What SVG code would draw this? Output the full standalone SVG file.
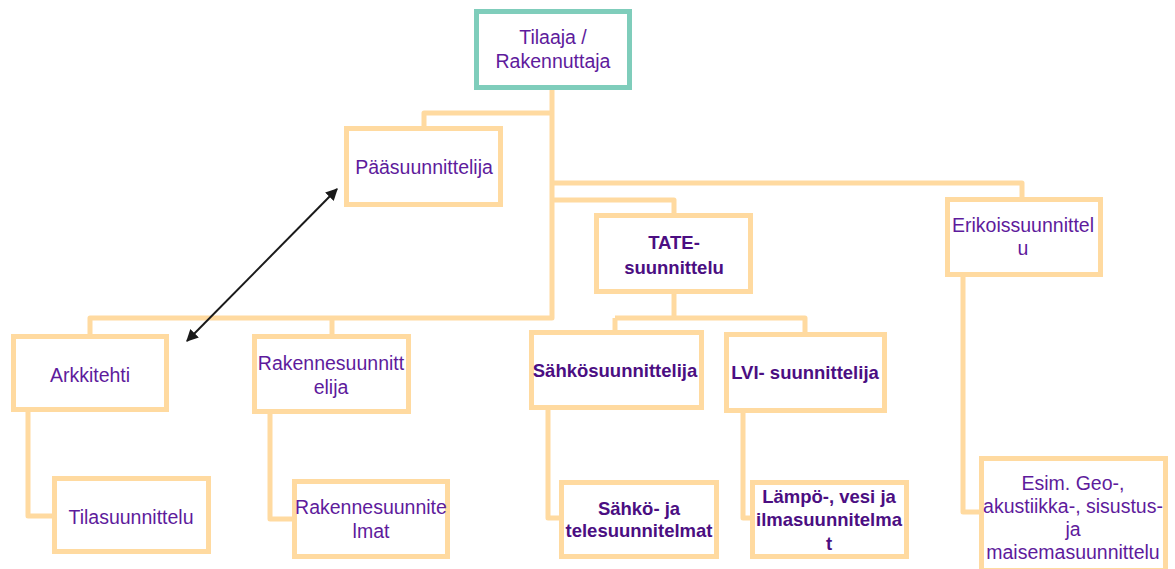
<svg xmlns="http://www.w3.org/2000/svg" width="1175" height="569" viewBox="0 0 1175 569">
<defs>
<style>
.box{fill:#fff;stroke:#FFDAA0;stroke-width:5}
.top{fill:#fff;stroke:#7FCDBB;stroke-width:5}
.con{fill:none;stroke:#FFDAA0;stroke-width:5;stroke-linejoin:round}
text{font-family:"Liberation Sans",Arial,sans-serif;font-size:19.5px;fill:#5E1B9C;text-anchor:middle}
.b{font-weight:bold;font-size:18.5px;fill:#4B0E82}
</style>
<marker id="ah" viewBox="0 0 10 10" refX="9" refY="5" markerWidth="6" markerHeight="6" orient="auto-start-reverse" markerUnits="strokeWidth">
<path d="M0,0 L10,5 L0,10 z" fill="#1a1a1a"/>
</marker>
</defs>
<rect width="1175" height="569" fill="#fff"/>
<g id="connectors">
<path class="con" d="M552,88 V318 H90 V336"/>
<path class="con" d="M332,318 V336"/>
<path class="con" d="M552,113 H424 V128"/>
<path class="con" d="M552,183 H1022 V198"/>
<path class="con" d="M552,200 H674 V214"/>
<path class="con" d="M674,293 V318"/>
<path class="con" d="M615,318 H805 V333"/>
<path class="con" d="M615,318 V331"/>
<path class="con" d="M28,410 V516 H53"/>
<path class="con" d="M270,412 V519 H293"/>
<path class="con" d="M548,408 V518 H560"/>
<path class="con" d="M743,411 V518 H751"/>
<path class="con" d="M963,275 V512 H980"/>
<line x1="187" y1="341" x2="337" y2="189" stroke="#1a1a1a" stroke-width="2" marker-start="url(#ah)" marker-end="url(#ah)"/>
</g>
<g id="tilaaja"><rect class="top" x="476.5" y="11.5" width="153" height="76"/><text x="553" y="44">Tilaaja /</text><text x="553" y="68">Rakennuttaja</text></g>
<g id="paasuunnittelija"><rect class="box" x="346.5" y="128.5" width="154" height="76"/><text x="424" y="174">Pääsuunnittelija</text></g>
<g id="tate"><rect class="box" x="596.5" y="215.5" width="154" height="76"/><text class="b" x="674" y="249">TATE-</text><text class="b" x="674" y="274">suunnittelu</text></g>
<g id="erikois"><rect class="box" x="947.5" y="199.5" width="153" height="75"/><text x="1023" y="232">Erikoissuunnittel</text><text x="1023" y="255">u</text></g>
<g id="arkkitehti"><rect class="box" x="13.5" y="336.5" width="153" height="73"/><text x="90" y="382">Arkkitehti</text></g>
<g id="rakennesuunnittelija"><rect class="box" x="254.5" y="336.5" width="154" height="75"/><text x="331" y="370">Rakennesuunnitt</text><text x="331" y="394">elija</text></g>
<g id="sahkosuunnittelija"><rect class="box" x="531.5" y="332.5" width="170" height="75"/><text class="b" x="615" y="377">Sähkösuunnittelija</text></g>
<g id="lvi"><rect class="box" x="726.5" y="334.5" width="158" height="76"/><text class="b" x="805" y="379">LVI- suunnittelija</text></g>
<g id="tilasuunnittelu"><rect class="box" x="54.5" y="478.5" width="154" height="73"/><text x="131" y="524">Tilasuunnittelu</text></g>
<g id="rakennesuunnitelmat"><rect class="box" x="294.5" y="481.5" width="153" height="75"/><text x="371" y="514">Rakennesuunnite</text><text x="371" y="538">lmat</text></g>
<g id="sahko-tele"><rect class="box" x="561.5" y="482.5" width="155" height="74"/><text class="b" x="639" y="515">Sähkö- ja</text><text class="b" x="639" y="537">telesuunnitelmat</text></g>
<g id="lampo"><rect class="box" x="752.5" y="482.5" width="154" height="74"/><text class="b" x="829" y="503">Lämpö-, vesi ja</text><text class="b" x="829" y="526">ilmasuunnitelma</text><text class="b" x="829" y="550">t</text></g>
<g id="esim"><rect class="box" x="981.5" y="458.5" width="184" height="112"/><text x="1073" y="490">Esim. Geo-,</text><text x="1073" y="513">akustiikka-, sisustus-</text><text x="1073" y="536">ja</text><text x="1073" y="559">maisemasuunnittelu</text></g>
</svg>
